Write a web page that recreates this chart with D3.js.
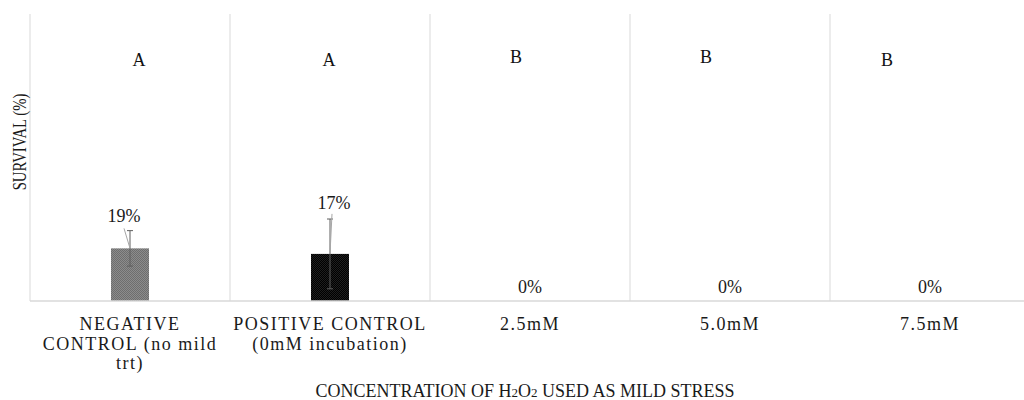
<!DOCTYPE html>
<html>
<head>
<meta charset="utf-8">
<script src="https://cdn.jsdelivr.net/npm/d3@7"></script>
<style>
  html, body { margin: 0; padding: 0; background: #fff; }
  svg { display: block; font-family: "Liberation Serif", "Times New Roman", serif; }
</style>
</head>
<body>
<svg id="chart" width="1024" height="400"></svg>
<script>
// Survival after mild H2O2 stress
const categories = [
  ["NEGATIVE", "CONTROL (no mild", "trt)"],
  ["POSITIVE CONTROL", "(0mM incubation)"],
  ["2.5mM"],
  ["5.0mM"],
  ["7.5mM"]
];
const survival = [19, 17, 0, 0, 0];
const errors = [6.4, 12.6, 0, 0, 0];
const groupLetters = ["A", "A", "B", "B", "B"];
const valueLabels = ["19%", "17%", "0%", "0%", "0%"];

const svg = d3.select("#chart");
const margin = { left: 30, right: -6, top: 14, bottom: 99 };
const W = 1024, H = 400;
const plotBottom = H - margin.bottom; // 301

const keys = categories.map((c, i) => "c" + i);
const x = d3.scaleBand().domain(keys).range([margin.left, W - margin.right]).padding(0);
const y = d3.scaleLinear().domain([0, 103.6]).range([plotBottom, margin.top]);

// Bar fills: fine dotted texture
const defs = svg.append("defs");
function dotPattern(id, base, dot) {
  const p = defs.append("pattern").attr("id", id).attr("patternUnits", "userSpaceOnUse")
    .attr("width", 2).attr("height", 2);
  p.append("rect").attr("width", 2).attr("height", 2).attr("fill", base);
  p.append("rect").attr("width", 1).attr("height", 1).attr("fill", dot);
  p.append("rect").attr("x", 1).attr("y", 1).attr("width", 1).attr("height", 1).attr("fill", dot);
}
dotPattern("fillNeg", "#8c8c8c", "#6e6e6e");
dotPattern("fillPos", "#000000", "#1e1e1e");
const fills = ["url(#fillNeg)", "url(#fillPos)", "#000", "#000", "#000"];

// Category dividers
const dividers = keys.map(k => x(k));
svg.append("g").selectAll("line").data(dividers).join("line")
  .attr("x1", d => d).attr("x2", d => d)
  .attr("y1", margin.top).attr("y2", plotBottom)
  .attr("stroke", "#d9d9d9").attr("stroke-width", 1);

// Bars
const barFrac = 0.19;
const data = survival.map((v, i) => ({ key: keys[i], v, e: errors[i], fill: fills[i] }));
svg.append("g").selectAll("rect").data(data.filter(d => d.v > 0)).join("rect")
  .attr("x", d => x(d.key) + x.bandwidth() * (1 - barFrac) / 2)
  .attr("width", x.bandwidth() * barFrac)
  .attr("y", d => y(d.v))
  .attr("height", d => y(0) - y(d.v))
  .attr("fill", d => d.fill);

// Baseline
svg.append("line")
  .attr("x1", margin.left).attr("x2", W)
  .attr("y1", y(0)).attr("y2", y(0))
  .attr("stroke", "#d9d9d9").attr("stroke-width", 1.5);

// Error bars
const cx = d => x(d.key) + x.bandwidth() / 2;
const eb = svg.append("g").attr("stroke", "#5f5f5f").attr("stroke-width", 1);
const withErr = data.filter(d => d.e > 0);
eb.selectAll(".stem").data(withErr).join("line")
  .attr("x1", cx).attr("x2", cx)
  .attr("y1", d => y(d.v + d.e)).attr("y2", d => y(d.v - d.e));
eb.selectAll(".capT").data(withErr).join("line")
  .attr("x1", d => cx(d) - 3).attr("x2", d => cx(d) + 3)
  .attr("y1", d => y(d.v + d.e)).attr("y2", d => y(d.v + d.e));
eb.selectAll(".capB").data(withErr).join("line")
  .attr("x1", d => cx(d) - 3).attr("x2", d => cx(d) + 3)
  .attr("y1", d => y(d.v - d.e)).attr("y2", d => y(d.v - d.e));

// Value labels (with leader lines for the non-zero bars)
const labelOffset = [{ dx: -6, dy: -26, lx: -6, ly: -20 }, { dx: 4, dy: -45, lx: 2, ly: -40 },
                     { dx: 0, dy: -8 }, { dx: 0, dy: -8 }, { dx: 0, dy: -8 }];
const lab = svg.append("g");
data.forEach((d, i) => {
  const o = labelOffset[i];
  const bx = cx(d), by = y(d.v);
  if (d.v > 0) {
    lab.append("line")
      .attr("x1", bx + o.lx).attr("y1", by + o.ly)
      .attr("x2", bx).attr("y2", by)
      .attr("stroke", "#a6a6a6").attr("stroke-width", 1);
  }
  lab.append("text")
    .attr("x", bx + o.dx).attr("y", by + o.dy)
    .attr("text-anchor", "middle")
    .attr("font-size", 18).attr("fill", "#1a1a1a")
    .text(valueLabels[i]);
});

// Significance group letters
const letterPos = [{ dx: 9, y: 66 }, { dx: -1, y: 66 }, { dx: -14, y: 63 }, { dx: -24, y: 63 }, { dx: -43, y: 66 }];
svg.append("g").selectAll("text").data(groupLetters).join("text")
  .attr("x", (d, i) => x(keys[i]) + x.bandwidth() / 2 + letterPos[i].dx)
  .attr("y", (d, i) => letterPos[i].y)
  .attr("text-anchor", "middle")
  .attr("font-size", 18).attr("fill", "#111")
  .text(d => d);

// Category labels
const xAxis = svg.append("g");
categories.forEach((lines, i) => {
  const t = xAxis.append("text")
    .attr("x", x(keys[i]) + x.bandwidth() / 2)
    .attr("y", 330)
    .attr("text-anchor", "middle")
    .attr("font-size", 18)
    .attr("letter-spacing", 1.5)
    .attr("fill", "#1a1a1a");
  lines.forEach((ln, j) => {
    t.append("tspan").attr("x", x(keys[i]) + x.bandwidth() / 2)
      .attr("dy", j === 0 ? 0 : 19.5).text(ln);
  });
});

// Axis titles
const xt = svg.append("text")
  .attr("x", 525).attr("y", 397)
  .attr("text-anchor", "middle")
  .attr("font-size", 18).attr("fill", "#1a1a1a");
xt.append("tspan").text("CONCENTRATION OF H");
xt.append("tspan").attr("font-size", 13).text("2");
xt.append("tspan").text("O");
xt.append("tspan").attr("font-size", 13).text("2");
xt.append("tspan").text(" USED AS MILD STRESS");

// Y title set in a condensed face
svg.append("text")
  .attr("transform", "translate(26,142) rotate(-90) scale(0.82,1)")
  .attr("text-anchor", "middle")
  .attr("font-size", 18).attr("fill", "#1a1a1a")
  .text("SURVIVAL (%)");
</script>
</body>
</html>
